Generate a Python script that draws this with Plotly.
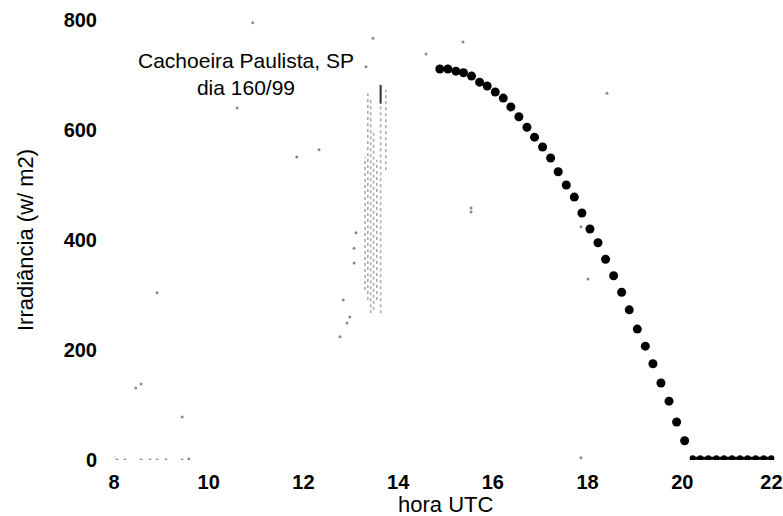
import plotly.graph_objects as go

# ---- data ----
hours = [14.88, 15.05, 15.22, 15.38, 15.55, 15.72, 15.88, 16.05, 16.22, 16.38,
         16.55, 16.72, 16.88, 17.05, 17.22, 17.38, 17.55, 17.72, 17.88, 18.05,
         18.22, 18.38, 18.55, 18.72, 18.88, 19.05, 19.22, 19.38, 19.55, 19.72,
         19.88, 20.05]
irradiance = [711, 711, 707, 704, 698, 687, 680, 669, 658, 642,
              624, 605, 587, 569, 549, 524, 500, 478, 449, 420,
              395, 365, 335, 305, 273, 238, 207, 175, 140, 107,
              69, 35]

night_hours = [20.22, 20.38, 20.55, 20.72, 20.88, 21.05, 21.22, 21.38, 21.55, 21.72, 21.88]
night_irradiance = [3, 3, 3, 3, 3, 3, 3, 3, 3, 3, 3]

# faint (faded) measurements
faint_hours = [7.98, 8.06, 8.23, 8.57, 8.76, 8.91, 9.10, 9.44, 9.58,
               8.46, 8.57, 9.44, 8.91, 10.60, 10.93, 13.47, 12.33, 11.86,
               13.32, 13.11, 13.07, 13.07, 12.84, 12.98, 12.92, 12.77,
               15.37, 14.59, 18.41, 15.54, 15.54, 17.86, 18.01, 17.86]
faint_irradiance = [5, 0, 0, 0, 0, 0, 0, 0, 2,
                    131, 138, 78, 304, 640, 795, 767, 564, 551,
                    715, 413, 385, 358, 291, 260, 249, 224,
                    760, 738, 667, 458, 451, 424, 329, 4]

# faded vertical band of readings around 13.5 h
band_hours = [13.30, 13.36, 13.42, 13.48, 13.55, 13.63, 13.74]
band_top = [551, 667, 655, 600, 545, 678, 673]
band_bottom = [309, 291, 267, 273, 291, 267, 527]
dark_hours = [13.63]
dark_top = [682]
dark_bottom = [648]

x_ticks = [8, 10, 12, 14, 16, 18, 20, 22]
x_ticktext = ["8", "10", "12", "14", "16", "18", "20", "22\u00a0\u00a0"]
y_ticks = [0, 200, 400, 600, 800]

FONT = "Liberation Sans, Arial, sans-serif"

fig = go.Figure()

for h, t, b in zip(band_hours, band_top, band_bottom):
    fig.add_trace(go.Scatter(x=[h, h], y=[b, t], mode="lines",
                             line=dict(color="#ababab", width=1.6, dash="dot"),
                             hoverinfo="skip", showlegend=False))
for h, t, b in zip(dark_hours, dark_top, dark_bottom):
    fig.add_trace(go.Scatter(x=[h, h], y=[b, t], mode="lines",
                             line=dict(color="#333333", width=2),
                             hoverinfo="skip", showlegend=False))

fig.add_trace(go.Scatter(x=faint_hours, y=faint_irradiance, mode="markers",
                         marker=dict(color="#8a8a8a", size=3),
                         showlegend=False))

fig.add_trace(go.Scatter(x=hours, y=irradiance, mode="markers",
                         marker=dict(color="black", size=9),
                         showlegend=False))
fig.add_trace(go.Scatter(x=night_hours, y=night_irradiance, mode="lines+markers",
                         line=dict(color="black", width=3),
                         marker=dict(color="black", size=6),
                         showlegend=False))

tickfont = dict(size=20, family=FONT, color="black", weight="bold")

fig.update_layout(
    width=783, height=516,
    margin=dict(l=114, r=6, t=20, b=56, autoexpand=False),
    paper_bgcolor="white", plot_bgcolor="white",
    font=dict(family=FONT, color="black", size=20),
    xaxis=dict(range=[8, 22], tickvals=x_ticks, ticktext=x_ticktext,
               showgrid=False, zeroline=False, showline=False, automargin=False,
               ticks="outside", ticklen=4, tickcolor="rgba(0,0,0,0)",
               ticklabeloverflow="allow", tickfont=tickfont),
    yaxis=dict(range=[0, 800], tickvals=y_ticks, ticktext=[str(v) for v in y_ticks],
               showgrid=False, zeroline=False, showline=False, automargin=False,
               ticks="outside", ticklen=12, tickcolor="rgba(0,0,0,0)",
               tickfont=tickfont),
    annotations=[
        dict(text="Cachoeira Paulista, SP<br>dia 160/99", x=10.79, y=701,
             xref="x", yref="y", xanchor="center", yanchor="middle",
             showarrow=False, align="center",
             font=dict(size=21, family=FONT, color="black")),
        dict(text="hora UTC", x=15.0, y=-0.102, xref="x", yref="paper",
             xanchor="center", yanchor="middle",
             showarrow=False, font=dict(size=22, family=FONT, color="black")),
        dict(text="Irradiância (w/ m2)", x=(25 - 114) / 663, y=0.5,
             xref="paper", yref="paper", textangle=-90, showarrow=False,
             xanchor="center", yanchor="middle",
             font=dict(size=22, family=FONT, color="black")),
    ],
)

fig.write_html("out.html")
